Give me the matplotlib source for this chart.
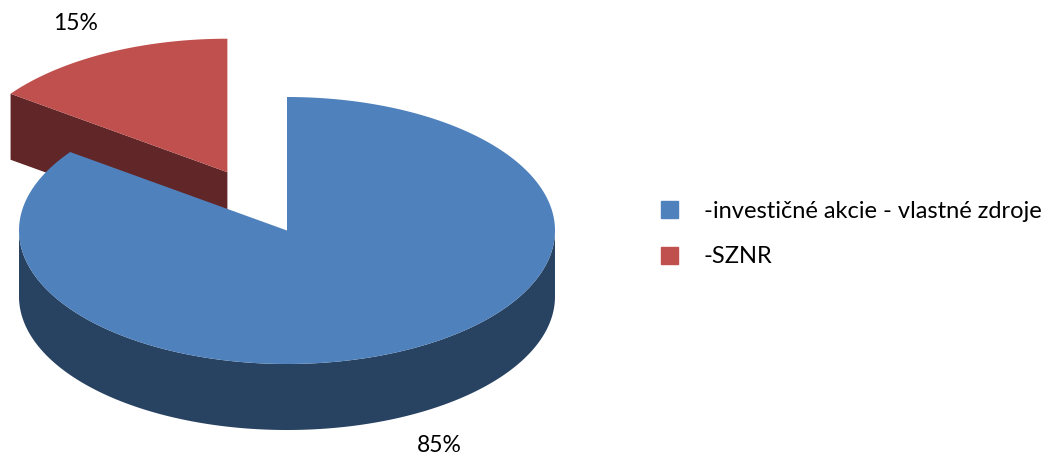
import numpy as np
import matplotlib.pyplot as plt
import matplotlib.patches as mpatches
from matplotlib.patches import Polygon

plt.rcParams['font.family'] = ['Lato', 'DejaVu Sans']

# Data
labels = ['-investičné akcie - vlastné zdroje', '-SZNR']
values = [85, 15]
top_colors = ['#4F81BD', '#C0504D']
side_colors = ['#284262', '#612627']
explode = [0.0, 0.49]

# Pie geometry (pixels)
cx, cy = 287, 230.5
rx, ry = 268, 133.5
depth = 66


def rim(ox, oy, t, dz=0.0):
    return ox + rx * np.cos(t), oy - ry * np.sin(t) + dz


fig = plt.figure(figsize=(10.54, 4.55), dpi=100)
ax = fig.add_axes([0, 0, 1, 1])
ax.set_xlim(0, 1054)
ax.set_ylim(455, 0)
ax.axis('off')

# slice angles: start at 12 o'clock, clockwise
total = float(sum(values))
slices = []
a_end = np.pi / 2
for i, v in enumerate(values):
    span = 2 * np.pi * v / total
    a1, a2 = a_end - span, a_end  # counter-clockwise range [a1, a2]
    a_end = a1
    mid = 0.5 * (a1 + a2)
    ox = cx + explode[i] * rx * np.cos(mid)
    oy = cy - explode[i] * ry * np.sin(mid)
    slices.append((i, a1, a2, mid, ox, oy))

# back slices first
slices.sort(key=lambda s: -np.sin(s[3]))

for i, a1, a2, mid, ox, oy in slices:
    # radial faces
    for a, vis in ((a1, np.cos(a1) > 1e-6), (a2, np.cos(a2) < -1e-6)):
        if vis:
            x, y = rim(ox, oy, a)
            pts = [(ox, oy), (x, y), (x, y + depth), (ox, oy + depth)]
            ax.add_patch(Polygon(pts, closed=True, fc=side_colors[i], ec='none'))
    # outer wall, front part only
    t = np.linspace(a1, a2, 400)
    t = t[np.sin(t) <= 0.0]
    if len(t) > 1:
        xt, yt = rim(ox, oy, t)
        pts = list(zip(xt, yt)) + list(zip(xt[::-1], yt[::-1] + depth))
        ax.add_patch(Polygon(pts, closed=True, fc=side_colors[i], ec='none'))
    # top face
    t = np.linspace(a1, a2, 400)
    xt, yt = rim(ox, oy, t)
    pts = [(ox, oy)] + list(zip(xt, yt))
    ax.add_patch(Polygon(pts, closed=True, fc=top_colors[i], ec='none'))

    # percentage label
    lx, ly = rim(ox, oy, mid)
    lx = ox + 1.25 * (lx - ox)
    ly = oy + 1.25 * (ly - oy)
    if np.sin(mid) < 0:
        ly += depth
    ax.text(lx, ly, '{:.0f}%'.format(100 * values[i] / total),
            ha='center', va='center', fontsize=16.5, color='black')

handles = [mpatches.Patch(color=top_colors[i], label=labels[i]) for i in range(len(values))]
fig.legend(handles=handles, loc='center left', bbox_to_anchor=(661 / 1054, 1 - 234 / 455),
           frameon=False, fontsize=17, handlelength=0.72, handleheight=0.72,
           handletextpad=1.1, labelspacing=1.05, borderpad=0, borderaxespad=0)

fig.savefig('out.png', dpi=100)
